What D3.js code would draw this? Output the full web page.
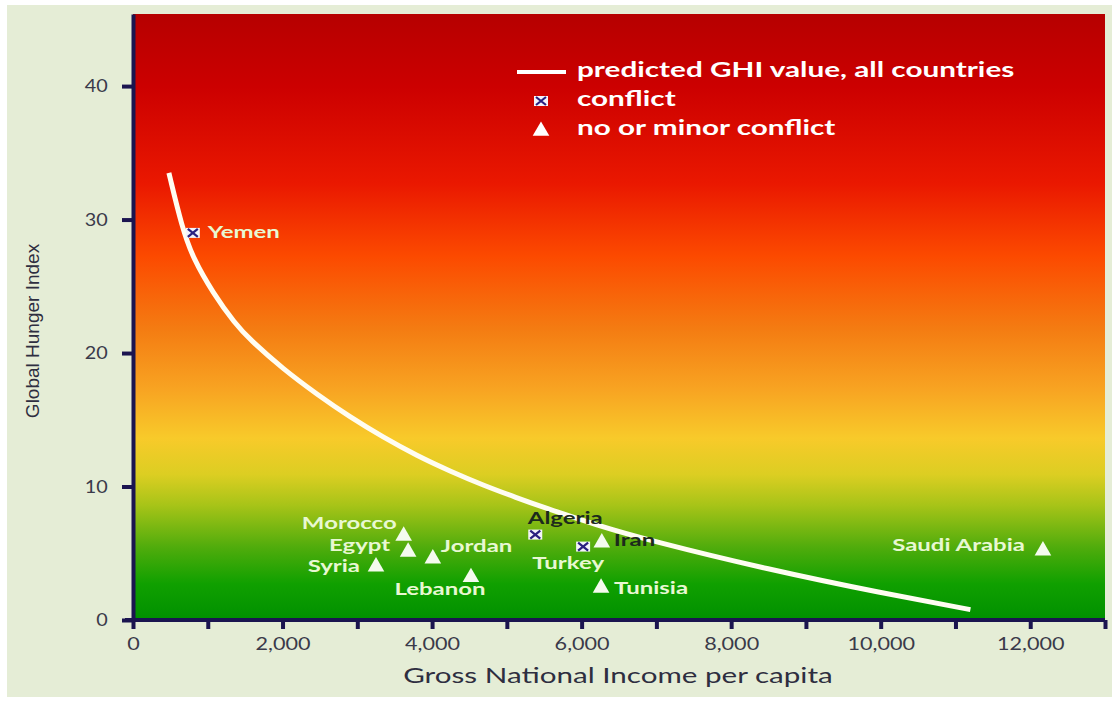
<!DOCTYPE html>
<html>
<head>
<meta charset="utf-8">
<script src="https://cdn.jsdelivr.net/npm/d3@7"></script>
<style>
  html, body { margin: 0; padding: 0; background: #ffffff; }
  svg { display: block; }
  text { font-family: Lato, "Open Sans", sans-serif; }
</style>
</head>
<body>
<svg id="chart" width="1120" height="702"></svg>
<script>
// countries (GNI per capita, GHI score, conflict flag)
var countries = ['Yemen', 'Algeria', 'Turkey', 'Iran', 'Morocco', 'Egypt', 'Syria', 'Jordan', 'Lebanon', 'Tunisia', 'Saudi Arabia'];
var gni = [800, 5380, 6020, 6270, 3620, 3680, 3250, 4010, 4520, 6260, 12170];
var ghi = [29.0, 6.4, 5.5, 5.8, 6.3, 5.1, 4.0, 4.6, 3.2, 2.4, 5.2];
var conflict = [true, true, true, false, false, false, false, false, false, false, false];

// predicted GHI curve
var curveGni = [480, 656, 803, 1070, 1365, 1565, 2007, 2462, 2903, 3344, 3799, 4241, 4682, 5137, 5485, 6207, 6916, 8482, 10033, 11200];
var curveGhi = [33.5, 29.4, 27.1, 24.5, 22.2, 21.0, 18.8, 16.9, 15.2, 13.7, 12.3, 11.15, 10.1, 9.15, 8.45, 7.1, 5.95, 3.8, 2.0, 0.78];

var yTicks = [0, 10, 20, 30, 40];
var xTicks = [0, 1000, 2000, 3000, 4000, 5000, 6000, 7000, 8000, 9000, 10000, 11000, 12000, 13000];

var legendItems = ['predicted GHI value, all countries', 'conflict', 'no or minor conflict'];

// label placement next to each marker
var labelPos = {
  'Yemen':        { dx: 15,  dy: 1,   anchor: 'start',  dark: false },
  'Algeria':      { dx: 30,  dy: -15, anchor: 'middle', dark: true },
  'Turkey':       { dx: -15, dy: 18,  anchor: 'middle', dark: false },
  'Iran':         { dx: 12,  dy: -1,  anchor: 'start',  dark: true },
  'Morocco':      { dx: -7,  dy: -11, anchor: 'end',    dark: false },
  'Egypt':        { dx: -18, dy: -5,  anchor: 'end',    dark: false },
  'Syria':        { dx: -16, dy: 1,   anchor: 'end',    dark: false },
  'Jordan':       { dx: 8,   dy: -11, anchor: 'start',  dark: false },
  'Lebanon':      { dx: -31, dy: 13,  anchor: 'middle', dark: false },
  'Tunisia':      { dx: 13,  dy: 2,   anchor: 'start',  dark: false },
  'Saudi Arabia': { dx: -18, dy: -4,  anchor: 'end',    dark: false }
};

var svg = d3.select('#chart');
var m = { left: 133, right: 1105, top: 14, bottom: 620 };
var navy = '#1b1550';

// the original's lettering is wide, so stretch text horizontally
var stretch = function (sel, x, y, sx) {
  return sel.append('g')
    .attr('transform', 'translate(' + x + ',' + y + ') scale(' + sx + ',1)')
    .append('text');
};

svg.append('rect')
  .attr('x', 7).attr('y', 5)
  .attr('width', 1105).attr('height', 692)
  .attr('fill', '#e5edd6');

var x = d3.scaleLinear().domain([0, 13000]).range([m.left, m.right]);
var y = d3.scaleLinear().domain([0, 45.4]).range([m.bottom, m.top]);

// background gradient red -> yellow -> green
var grad = svg.append('defs').append('linearGradient')
  .attr('id', 'bg')
  .attr('x1', 0).attr('y1', 0).attr('x2', 0).attr('y2', 1);
[
  [0.00, '#b60000'], [0.12, '#cc0000'], [0.28, '#ea1800'], [0.40, '#fc4a00'],
  [0.52, '#f47c12'], [0.62, '#f8a422'], [0.70, '#f8ca2a'], [0.76, '#dcce22'],
  [0.81, '#a8c418'], [0.88, '#50ac0c'], [0.94, '#10a000'], [1.00, '#009000']
].forEach(function (s) {
  grad.append('stop').attr('offset', s[0]).attr('stop-color', s[1]);
});

svg.append('rect')
  .attr('x', m.left).attr('y', m.top)
  .attr('width', m.right - m.left).attr('height', m.bottom - m.top)
  .attr('fill', 'url(#bg)');

// axes
var yAxis = d3.axisLeft(y).tickValues(yTicks).tickSize(11).tickSizeOuter(0).tickPadding(12);
var xAxis = d3.axisBottom(x).tickValues(xTicks).tickSize(9).tickSizeOuter(0).tickPadding(8)
  .tickFormat(function (d) { return d % 2000 === 0 ? d3.format(',')(d) : ''; });

var gy = svg.append('g').attr('transform', 'translate(' + m.left + ',0)').call(yAxis);
var gx = svg.append('g').attr('transform', 'translate(0,' + m.bottom + ')').call(xAxis);

[gx, gy].forEach(function (g) {
  g.select('.domain').attr('stroke', navy).attr('stroke-width', 4);
  g.selectAll('.tick line').attr('stroke', navy).attr('stroke-width', 4);
  g.selectAll('.tick text')
    .attr('fill', '#3a3a4a')
    .style('font-size', '18px')
    .style('font-family', 'Lato, sans-serif');
});
gx.selectAll('.tick text').attr('transform', 'scale(1.2,1)');
gy.selectAll('.tick text').attr('transform', 'scale(1.1,1)');
gx.select('.domain').attr('d', 'M' + (m.left - 8) + ',0H' + m.right);

svg.append('g')
  .attr('transform', 'translate(34,331) rotate(-90)')
  .append('text')
  .attr('text-anchor', 'middle')
  .attr('dominant-baseline', 'middle')
  .attr('fill', '#2e2e40')
  .style('font-family', '"Liberation Sans Narrow", "Arial Narrow", sans-serif')
  .style('font-size', '19px')
  .text('Global Hunger Index');

stretch(svg, 618, 683, 1.41)
  .attr('text-anchor', 'middle')
  .attr('fill', '#2e2e40')
  .style('font-size', '21px')
  .text('Gross National Income per capita');

// predicted curve
var line = d3.line()
  .x(function (d) { return x(d[0]); })
  .y(function (d) { return y(d[1]); })
  .curve(d3.curveBasis);

svg.append('path')
  .datum(d3.zip(curveGni, curveGhi))
  .attr('d', line)
  .attr('fill', 'none')
  .attr('stroke', '#fffdf2')
  .attr('stroke-width', 5)
  .attr('stroke-linecap', 'butt');

// markers
var tri = d3.symbol(d3.symbolTriangle, 120);

function crossMarker(g) {
  g.append('rect').attr('x', -7).attr('y', -5).attr('width', 14).attr('height', 10)
    .attr('fill', '#f4f4fa');
  g.append('path').attr('d', 'M-5,-4L5,4M-5,4L5,-4')
    .attr('stroke', '#2a2080').attr('stroke-width', 2.2);
}

var pts = svg.append('g').selectAll('g')
  .data(d3.range(countries.length))
  .join('g')
  .attr('transform', function (i) { return 'translate(' + x(gni[i]) + ',' + y(ghi[i]) + ')'; });

pts.each(function (i) {
  var g = d3.select(this);
  if (conflict[i]) {
    crossMarker(g);
  } else {
    g.append('path').attr('d', tri).attr('fill', '#f4fbee');
  }
});

pts.each(function (i) {
  var p = labelPos[countries[i]];
  stretch(d3.select(this), p.dx, p.dy, 1.37)
    .attr('text-anchor', p.anchor)
    .attr('dominant-baseline', 'middle')
    .attr('fill', p.dark ? '#1c2a1c' : '#e8f8d2')
    .style('font-size', '17.5px')
    .style('font-weight', 'bold')
    .text(countries[i]);
});

// legend
var lg = svg.append('g').attr('transform', 'translate(541,72)');
lg.append('line').attr('x1', -24).attr('x2', 25).attr('y1', 0).attr('y2', 0)
  .attr('stroke', '#ffffff').attr('stroke-width', 4);
crossMarker(lg.append('g').attr('transform', 'translate(0,29)'));
lg.append('path').attr('d', tri).attr('transform', 'translate(0,59)').attr('fill', '#ffffff');

legendItems.forEach(function (d, i) {
  stretch(lg, 36, i * 29, 1.415)
    .attr('dominant-baseline', 'middle')
    .attr('fill', '#ffffff')
    .style('font-size', '21px')
    .style('font-weight', 'bold')
    .text(d);
});
</script>
</body>
</html>
